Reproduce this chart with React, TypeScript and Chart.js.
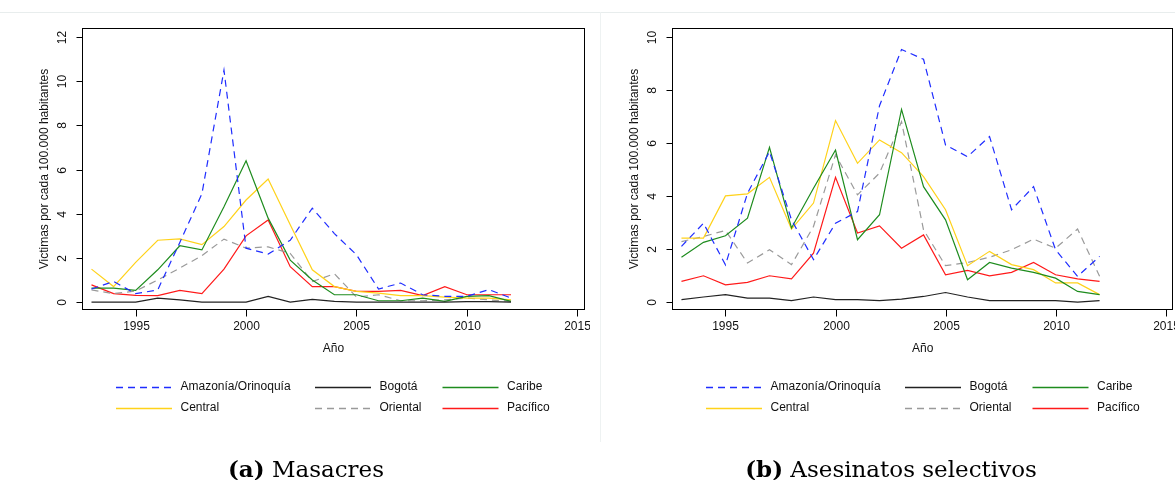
import React, { useEffect, useRef } from "react";
import { Chart, registerables } from "chart.js";

Chart.register(...registerables);

// ---------- data ----------
const years = [1993, 1994, 1995, 1996, 1997, 1998, 1999, 2000, 2001, 2002, 2003, 2004, 2005, 2006, 2007, 2008, 2009, 2010, 2011, 2012];
const seriesNames = ["Amazonía/Orinoquía", "Bogotá", "Caribe", "Central", "Oriental", "Pacífico"];

// (a) Masacres
const masAmazonia = [0.59, 0.93, 0.38, 0.55, 2.7, 4.9, 10.5, 2.44, 2.17, 2.8, 4.25, 3.1, 2.14, 0.59, 0.86, 0.33, 0.26, 0.26, 0.56, 0.18];
const masBogota = [0, 0, 0, 0.18, 0.1, 0, 0, 0, 0.26, 0, 0.12, 0.03, 0, 0, 0, 0, 0, 0.02, 0.02, 0];
const masCaribe = [0.63, 0.63, 0.53, 1.46, 2.55, 2.36, 4.32, 6.4, 3.8, 1.9, 1.0, 0.33, 0.33, 0.06, 0.06, 0.18, 0.03, 0.26, 0.29, 0.03];
const masCentral = [1.49, 0.7, 1.8, 2.8, 2.86, 2.6, 3.42, 4.62, 5.57, 3.5, 1.46, 0.7, 0.48, 0.4, 0.29, 0.29, 0.22, 0.18, 0.18, 0.1];
const masOriental = [0.55, 0.38, 0.5, 1.0, 1.54, 2.1, 2.85, 2.44, 2.5, 2.2, 0.93, 1.28, 0.23, 0.33, 0.06, 0.06, 0.1, 0.18, 0.1, 0.03];
const masPacifico = [0.78, 0.38, 0.3, 0.29, 0.53, 0.38, 1.49, 3.0, 3.72, 1.6, 0.7, 0.7, 0.48, 0.48, 0.53, 0.29, 0.7, 0.33, 0.33, 0.33];

// (b) Asesinatos selectivos
const aseAmazonia = [2.1, 2.97, 1.4, 4.1, 5.67, 3.1, 1.6, 2.97, 3.41, 7.4, 9.52, 9.15, 5.92, 5.48, 6.24, 3.48, 4.35, 1.97, 0.97, 1.72];
const aseBogota = [0.09, 0.19, 0.28, 0.15, 0.15, 0.05, 0.19, 0.09, 0.09, 0.05, 0.11, 0.21, 0.36, 0.19, 0.05, 0.05, 0.05, 0.05, 0, 0.05];
const aseCaribe = [1.69, 2.25, 2.5, 3.16, 5.83, 2.79, 4.29, 5.73, 2.35, 3.29, 7.26, 4.35, 3.1, 0.84, 1.49, 1.28, 1.12, 0.9, 0.4, 0.28];
const aseCentral = [2.41, 2.41, 4.0, 4.08, 4.7, 2.75, 3.73, 6.84, 5.23, 6.11, 5.63, 4.73, 3.48, 1.37, 1.91, 1.41, 1.22, 0.72, 0.72, 0.28];
const aseOriental = [2.28, 2.47, 2.7, 1.47, 1.97, 1.41, 2.85, 5.55, 4.04, 4.86, 6.8, 2.72, 1.37, 1.49, 1.69, 1.97, 2.37, 2.03, 2.75, 0.97];
const asePacifico = [0.78, 0.99, 0.65, 0.74, 0.99, 0.87, 1.84, 4.7, 2.6, 2.87, 2.03, 2.53, 1.03, 1.19, 0.99, 1.12, 1.49, 1.03, 0.87, 0.78];

const xTickLabels = [1995, 2000, 2005, 2010, 2015];
const yTicksA = [0, 2, 4, 6, 8, 10, 12];
const yTicksB = [0, 2, 4, 6, 8, 10];

const yAxisTitle = "Victimas por cada 100.000 habitantes";
const xAxisTitle = "Año";

// ---------- styles ----------
const lineColors = ["#1f2dff", "#222222", "#1e8c1e", "#ffd21a", "#9a9a9a", "#ff1a1a"];
const lineDashes: number[][] = [[7, 5], [], [], [], [7, 5], []];
const FONT = '"Liberation Sans", Arial, sans-serif';

const decorPlugin = {
  id: "decor",
  afterDraw(chart: any) {
    const o = chart.options.plugins.decor;
    if (!o) return;
    const { ctx, chartArea } = chart;
    const xs = chart.scales.x;
    const ys = chart.scales.y;
    ctx.save();
    // box
    ctx.strokeStyle = "#000";
    ctx.lineWidth = 1;
    const L = Math.round(chartArea.left) + 0.5;
    const T = Math.round(chartArea.top) + 0.5;
    const R = Math.round(chartArea.right) - 0.5;
    const B = Math.round(chartArea.bottom) - 0.5;
    ctx.strokeRect(L, T, R - L, B - T);

    ctx.fillStyle = "#111";
    ctx.font = `12px ${FONT}`;
    // x ticks
    ctx.textAlign = "center";
    ctx.textBaseline = "middle";
    for (const v of o.xTicks) {
      const px = Math.round(xs.getPixelForValue(v)) + 0.5;
      ctx.beginPath();
      ctx.moveTo(px, B);
      ctx.lineTo(px, B + 7);
      ctx.stroke();
      ctx.fillText(String(v), px, 327);
    }
    // y ticks
    for (const v of o.yTicks) {
      const py = Math.round(ys.getPixelForValue(v)) + 0.5;
      ctx.beginPath();
      ctx.moveTo(L, py);
      ctx.lineTo(L - 6, py);
      ctx.stroke();
      ctx.save();
      ctx.translate(63, py);
      ctx.rotate(-Math.PI / 2);
      ctx.fillText(String(v), 0, 0);
      ctx.restore();
    }
    // axis titles
    ctx.fillText(o.xTitle, (chartArea.left + chartArea.right) / 2, 349);
    ctx.save();
    ctx.translate(45, (chartArea.top + chartArea.bottom) / 2);
    ctx.rotate(-Math.PI / 2);
    ctx.fillText(o.yTitle, 0, 0);
    ctx.restore();

    // legend
    const colStarts = [116, 315, 442.5];
    const rowY = [387, 408];
    chart.data.datasets.forEach((ds: any, i: number) => {
      const c = i % 3;
      const r = Math.floor(i / 3);
      const x0 = colStarts[c];
      const y = rowY[r] + 0.5;
      ctx.save();
      ctx.strokeStyle = ds.borderColor;
      ctx.lineWidth = 1.3;
      ctx.setLineDash(ds.borderDash || []);
      ctx.beginPath();
      ctx.moveTo(x0, y);
      ctx.lineTo(x0 + 56, y);
      ctx.stroke();
      ctx.restore();
      ctx.textAlign = "left";
      ctx.fillStyle = "#111";
      ctx.fillText(ds.label, x0 + 64.5, rowY[r]);
    });

    // caption
    ctx.textBaseline = "alphabetic";
    ctx.textAlign = "left";
    ctx.fillStyle = "#000";
    ctx.font = 'bold 23px "DejaVu Serif", serif';
    const wb = ctx.measureText(o.capBold).width;
    ctx.font = '23px "DejaVu Serif", serif';
    const wn = ctx.measureText(" " + o.capText).width;
    const sx = o.capX - (wb + wn) / 2;
    ctx.font = 'bold 23px "DejaVu Serif", serif';
    ctx.fillText(o.capBold, sx, 477);
    ctx.font = '23px "DejaVu Serif", serif';
    ctx.fillText(" " + o.capText, sx + wb, 477);
    ctx.restore();
  },
};

function buildConfig(series: number[][], yMin: number, yMax: number, yTicks: number[], rightPad: number, capBold: string, capText: string, capX: number): any {
  return {
    type: "line",
    data: {
      datasets: seriesNames.map((name, i) => ({
        label: name,
        data: years.map((yr, j) => ({ x: yr, y: series[i][j] })),
        borderColor: lineColors[i],
        borderDash: lineDashes[i],
        borderWidth: 1.2,
        pointRadius: 0,
        fill: false,
        tension: 0,
      })),
    },
    options: {
      responsive: false,
      animation: false,
      layout: { padding: { left: 82, right: rightPad, top: 28, bottom: 480 - 310 } },
      scales: {
        x: { type: "linear", display: false, min: 1992.57, max: 2015.35 },
        y: { type: "linear", display: false, min: yMin, max: yMax },
      },
      plugins: {
        legend: { display: false },
        tooltip: { enabled: false },
        decor: { xTicks: xTickLabels, yTicks, xTitle: xAxisTitle, yTitle: yAxisTitle, capBold, capText, capX },
      },
    },
    plugins: [decorPlugin],
  };
}

export default function App() {
  const refA = useRef<HTMLCanvasElement>(null);
  const refB = useRef<HTMLCanvasElement>(null);

  useEffect(() => {
    const a = new Chart(
      refA.current!,
      buildConfig([masAmazonia, masBogota, masCaribe, masCentral, masOriental, masPacifico], -0.36, 12.41, yTicksA, 5, "(a)", "Masacres", 306)
    );
    const b = new Chart(
      refB.current!,
      buildConfig([aseAmazonia, aseBogota, aseCaribe, aseCentral, aseOriental, asePacifico], -0.3, 10.33, yTicksB, 6.7, "(b)", "Asesinatos selectivos", 301)
    );
    return () => {
      a.destroy();
      b.destroy();
    };
  }, []);

  return (
    <div style={{ position: "absolute", left: 0, top: 0, width: 1175, height: 480, overflow: "hidden", background: "#fff" }}>
      <div style={{ position: "absolute", left: 0, top: 12, width: 1175, height: 1, background: "#e8eded" }} />
      <div style={{ position: "absolute", left: 600, top: 12, width: 1, height: 430, background: "#eef2f2" }} />
      <canvas ref={refA} width={590} height={480} style={{ position: "absolute", left: 0, top: 0 }} />
      <canvas ref={refB} width={590} height={480} style={{ position: "absolute", left: 590, top: 0 }} />
    </div>
  );
}
